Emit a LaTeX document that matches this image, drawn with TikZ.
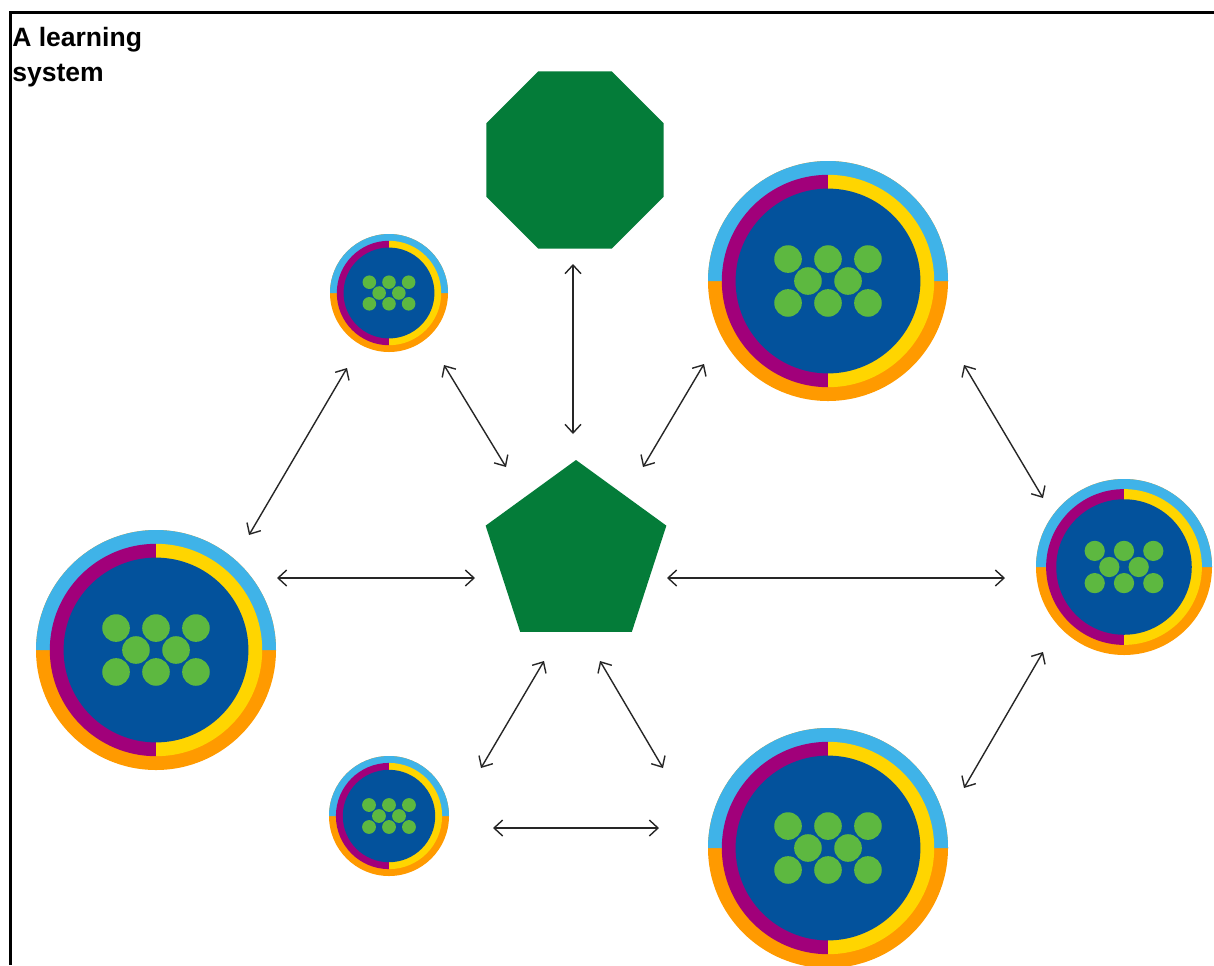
\documentclass[tikz,border=0pt]{standalone}
\usepackage{fontspec}
\newfontfamily\titlefont{Liberation Sans}
\usetikzlibrary{shapes.geometric,arrows.meta}
\definecolor{ringblue}{HTML}{3FB3E8}
\definecolor{ringorange}{HTML}{FF9A00}
\definecolor{ringpurple}{HTML}{A1007A}
\definecolor{ringyellow}{HTML}{FFD500}
\definecolor{coreblue}{HTML}{03529C}
\definecolor{dotgreen}{HTML}{5DB840}
\definecolor{shapegreen}{HTML}{047C39}
\tikzset{
  conn/.style={line width=1.05pt, black!85, {Straight Barb[length=6.5pt,width=12pt]}-{Straight Barb[length=6.5pt,width=12pt]}},
  polyshape/.style={regular polygon, fill=shapegreen, draw=none, inner sep=0pt, outer sep=0pt},
  sysnode/.style={circle, inner sep=0pt, outer sep=0pt, draw=none}
}
% name, x, y, R
\newcommand\lsyscircle[4]{%
  \node[sysnode, minimum size={2*#4*0.75pt}] (#1) at (#2,#3) {};
  \fill[ringorange] (#2,#3) circle[radius=#4];
  \fill[ringblue] ({#2-#4},#3) arc[start angle=180,end angle=360,radius=#4] -- cycle;
  \fill[ringpurple] (#2,#3) -- ++(90:{0.885*#4}) arc[start angle=90,end angle=270,radius={0.885*#4}] -- cycle;
  \fill[ringyellow] (#2,#3) -- ++(-90:{0.885*#4}) arc[start angle=-90,end angle=90,radius={0.885*#4}] -- cycle;
  \fill[coreblue] (#2,#3) circle[radius={0.77*#4}];
  \foreach \dx/\dy in {-0.333/-0.183, 0/-0.183, 0.333/-0.183, -0.167/0, 0.167/0, -0.333/0.183, 0/0.183, 0.333/0.183}
    \fill[dotgreen] ({#2+\dx*#4},{#3+\dy*#4}) circle[radius={0.115*#4}];
}
\begin{document}
\begin{tikzpicture}[x=0.75pt,y=-0.75pt]
\useasboundingbox (0,0) rectangle (1214,965);
\fill[white] (0,0) rectangle (1214,965);
% frame
\draw[line width=1.6pt, black] (1214,12.5) -- (10.5,12.5) -- (10.5,965);
% title
\node[anchor=north west, inner sep=0pt, align=left, font=\titlefont\bfseries\fontsize{19.9}{26}\selectfont] (title) at (12,27.5) {A learning\\system};
% central shapes
\node[polyshape, regular polygon sides=8, minimum size={192*0.75pt}] (oct) at (575,160) {};
\node[polyshape, regular polygon sides=5, minimum size={190*0.75pt}] (pent) at (576,555) {};
% learning systems
\lsyscircle{L}{156}{650}{120}
\lsyscircle{TL}{389}{293}{59}
\lsyscircle{TR}{828}{281}{120}
\lsyscircle{R}{1124}{567}{88}
\lsyscircle{BL}{389}{816}{60}
\lsyscircle{BR}{828}{848}{120}
% connectors
\draw[conn] ([shift={(-2,104)}]oct.center) -- ([shift={(-3,-121)}]pent.center);
\draw[conn] ([shift={(55,72)}]TL.center) -- ([shift={(-70,-88)}]pent.center);
\draw[conn] ([shift={(-124,83)}]TR.center) -- ([shift={(67,-88)}]pent.center);
\draw[conn] ([shift={(-42,75)}]TL.center) -- ([shift={(93,-115)}]L.center);
\draw[conn] ([shift={(121,-72)}]L.center) -- ([shift={(-101,23)}]pent.center);
\draw[conn] ([shift={(91,23)}]pent.center) -- ([shift={(-119,11)}]R.center);
\draw[conn] ([shift={(136,84)}]TR.center) -- ([shift={(-81,-69)}]R.center);
\draw[conn] ([shift={(-32,106)}]pent.center) -- ([shift={(92,-48)}]BL.center);
\draw[conn] ([shift={(24,106)}]pent.center) -- ([shift={(-165,-80)}]BR.center);
\draw[conn] ([shift={(104,12)}]BL.center) -- ([shift={(-169,-20)}]BR.center);
\draw[conn] ([shift={(-81,85)}]R.center) -- ([shift={(136,-60)}]BR.center);
\end{tikzpicture}
\end{document}
